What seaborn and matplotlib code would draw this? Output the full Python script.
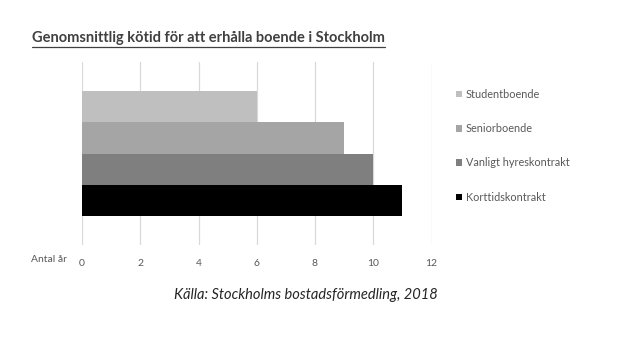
import matplotlib
matplotlib.use("Agg")
import matplotlib.pyplot as plt
import seaborn as sns
import pandas as pd
from matplotlib.patches import Patch

categories = ["Studentboende", "Seniorboende", "Vanligt hyreskontrakt", "Korttidskontrakt"]
years = [6, 9, 10, 11]
colors = ["#bfbfbf", "#a5a5a5", "#7f7f7f", "#000000"]
xticks = [0, 2, 4, 6, 8, 10, 12]

sns.set_theme(style="white")
plt.rcParams["font.family"] = ["Lato", "DejaVu Sans"]

df = pd.DataFrame({"kategori": categories, "år": years})

fig = plt.figure(figsize=(6.24, 3.37), dpi=100)
ax = fig.add_axes([82 / 624, 1 - 245 / 337, (431.5 - 82) / 624, (245 - 62) / 337])

sns.barplot(data=df, y="kategori", x="år", hue="kategori", palette=colors,
            order=categories, hue_order=categories, orient="h", width=1.0,
            dodge=False, legend=False, ax=ax, saturation=1, linewidth=0)

ax.set_xlim(0, 12)
ax.set_ylim(4.43, -1.43)
ax.set_xticks(xticks)
ax.set_xticklabels([str(t) for t in xticks], color="#595959", fontsize=7.5)
ax.set_yticks([])
ax.set_xlabel("")
ax.set_ylabel("")
ax.grid(axis="x", color="#d9d9d9", linewidth=0.9)
ax.set_axisbelow(True)
for s in ax.spines.values():
    s.set_visible(False)
ax.tick_params(axis="x", length=0, pad=10)

fig.text(67 / 624, 1 - 260 / 337, "Antal år", ha="right", va="center",
         fontsize=7.5, color="#595959")

handles = [Patch(facecolor=c, edgecolor="none") for c in colors]
fig.legend(handles, categories, loc="upper left",
           bbox_to_anchor=(452 / 624, 1 - 84.5 / 337), frameon=False,
           fontsize=7.8, labelcolor="#595959", handlelength=0.55, handleheight=0.55,
           handletextpad=0.3, labelspacing=2.15, borderaxespad=0)

fig.text(32 / 624, 1 - 38 / 337,
         "Genomsnittlig kötid för att erhålla boende i Stockholm",
         ha="left", va="center", fontsize=10.5, fontweight="bold",
         color="#404040")
title_line_y = 1 - 47 / 337
fig.add_artist(plt.Line2D([32 / 624, 385 / 624], [title_line_y, title_line_y],
                          color="#404040", linewidth=0.9))

fig.text(306 / 624, 1 - 295 / 337, "Källa: Stockholms bostadsförmedling, 2018",
         ha="center", va="center", fontsize=10.5, fontstyle="italic", color="#262626")

fig.savefig("out.png", dpi=100, facecolor="white")
